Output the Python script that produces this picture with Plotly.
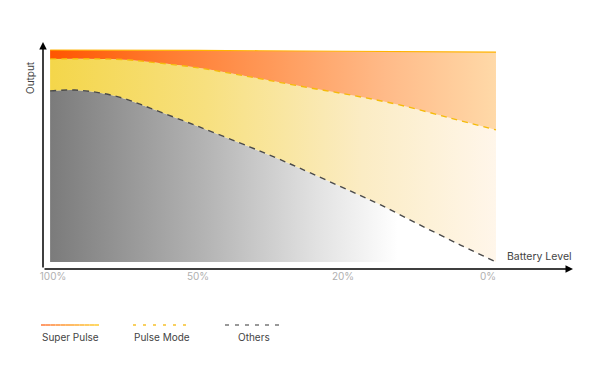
import plotly.graph_objects as go

# ---- data ----
tick_labels = ["100%", "50%", "20%", "0%"]
tick_pos = [0, 1, 2, 3]

# battery position (in tick units) of sampled points
super_x = [-0.02, 1.0, 2.0, 3.055]
super_y = [1.0, 0.998, 0.994, 0.99]

pulse_x = [-0.02, 0.33, 0.53, 0.67, 1.01, 1.36, 1.70, 2.05, 2.39, 2.74, 3.055]
pulse_y = [0.958, 0.958, 0.953, 0.943, 0.915, 0.873, 0.830, 0.788, 0.741, 0.679, 0.623]

others_x = [-0.02, 0.15, 0.33, 0.50, 0.67, 1.01, 1.36, 1.54, 1.70, 2.05, 2.26, 2.53, 2.81, 3.055]
others_y = [0.807, 0.811, 0.797, 0.769, 0.726, 0.637, 0.542, 0.491, 0.443, 0.335, 0.269, 0.175, 0.080, 0.0]

base_x = [-0.02, 3.055]
base_y = [0.0, 0.0]

FONT = "Inter, Roboto, Arial, sans-serif"

fig = go.Figure()

fig.add_trace(go.Scatter(x=base_x, y=base_y, mode="lines", line=dict(width=0),
                         hoverinfo="skip", showlegend=False))
fig.add_trace(go.Scatter(
    x=others_x, y=others_y, mode="lines", line=dict(color="#4a4a4a", width=1.4, dash="6px,5px", shape="spline"),
    fill="tonexty",
    fillgradient=dict(type="horizontal", start=-0.02, stop=3.055,
                      colorscale=[[0, "#7b7b7b"], [0.35, "#b4b4b4"], [0.6, "#e2e2e2"], [0.78, "#ffffff"], [1, "rgba(255,255,255,0)"]]),
    hoverinfo="skip", showlegend=False))
fig.add_trace(go.Scatter(
    x=pulse_x, y=pulse_y, mode="lines", line=dict(color="#f5bb0a", width=1.4, dash="6px,5px", shape="spline"),
    fill="tonexty",
    fillgradient=dict(type="horizontal", start=-0.02, stop=3.055,
                      colorscale=[[0, "#f4d64a"], [0.35, "#f7e07f"], [0.7, "#fbecc4"], [1, "#fff6ea"]]),
    hoverinfo="skip", showlegend=False))
fig.add_trace(go.Scatter(
    x=super_x, y=super_y, mode="lines", line=dict(color="#ffb300", width=1.2, shape="spline"),
    fill="tonexty",
    fillgradient=dict(type="horizontal", start=-0.02, stop=3.055,
                      colorscale=[[0, "#ff5500"], [0.25, "#ff7a2e"], [0.5, "#ff9a5a"], [0.75, "#ffba88"], [1, "#ffd9a8"]]),
    hoverinfo="skip", showlegend=False))

L, R, T, B = 43, 24, 42, 100
W, H = 604, 369
pw, ph = W - L - R, H - T - B

def px(p):
    return (p - L) / pw

def py(p):
    return (H - B - p) / ph

annotations = []
annotations.append(dict(x=0, y=1, xref="paper", yref="paper", ax=0, ay=ph,
                        axref="pixel", ayref="pixel", showarrow=True, text="",
                        arrowhead=2, arrowsize=1, arrowwidth=1.5, arrowcolor="#000"))
annotations.append(dict(x=px(573), y=0, xref="paper", yref="paper", ax=-(573 - L), ay=0,
                        axref="pixel", ayref="pixel", showarrow=True, text="",
                        arrowhead=2, arrowsize=1, arrowwidth=1.5, arrowcolor="#000"))
annotations.append(dict(x=px(30), y=py(78), xref="paper", yref="paper", text="Output",
                        xanchor="center", yanchor="middle",
                        textangle=-90, showarrow=False, font=dict(family=FONT, size=10, color="#444")))
annotations.append(dict(x=px(539), y=py(256), xref="paper", yref="paper", text="Battery Level",
                        xanchor="center", yanchor="middle",
                        showarrow=False, font=dict(family=FONT, size=10.5, color="#444")))

shapes = []
leg_y = py(325)
n = 12
c0, c1 = (255, 155, 105), (255, 215, 100)
for i in range(n):
    t0 = 41 + (99 - 41) * i / n
    t1 = 41 + (99 - 41) * (i + 1) / n
    f = i / (n - 1)
    col = "rgb(%d,%d,%d)" % tuple(round(c0[k] + (c1[k] - c0[k]) * f) for k in range(3))
    shapes.append(dict(type="line", xref="paper", yref="paper", x0=px(t0), x1=px(t1), y0=leg_y, y1=leg_y,
                       line=dict(color=col, width=2)))
shapes.append(dict(type="line", xref="paper", yref="paper", x0=px(133), x1=px(191), y0=leg_y, y1=leg_y,
                   line=dict(color="#f8d060", width=2, dash="3px,7px")))
shapes.append(dict(type="line", xref="paper", yref="paper", x0=px(225), x1=px(283), y0=leg_y, y1=leg_y,
                   line=dict(color="#999999", width=2, dash="4px,6px")))
for txt, cx in [("Super Pulse", 70), ("Pulse Mode", 162), ("Others", 254)]:
    annotations.append(dict(x=px(cx), y=py(337), xref="paper", yref="paper", text=txt, showarrow=False,
                            xanchor="center", yanchor="middle",
                            font=dict(family=FONT, size=10, color="#444")))

x0 = (L - 53) / 145
x1 = (W - R - 53) / 145
y0 = (262 - (H - B)) / 212
y1 = (262 - T) / 212

fig.update_layout(
    width=W, height=H, margin=dict(l=L, r=R, t=T, b=B),
    paper_bgcolor="white", plot_bgcolor="white",
    xaxis=dict(range=[x0, x1], tickvals=tick_pos, ticktext=tick_labels, showgrid=False, zeroline=False,
               showline=False, ticks="", tickfont=dict(family=FONT, size=10, color="#b0b0b0")),
    yaxis=dict(range=[y0, y1], showticklabels=False, showgrid=False, zeroline=False, showline=False, ticks=""),
    annotations=annotations, shapes=shapes, showlegend=False,
)

fig.write_html("out.html", config={"displayModeBar": False},
               post_script="document.body.style.margin='0px';")
